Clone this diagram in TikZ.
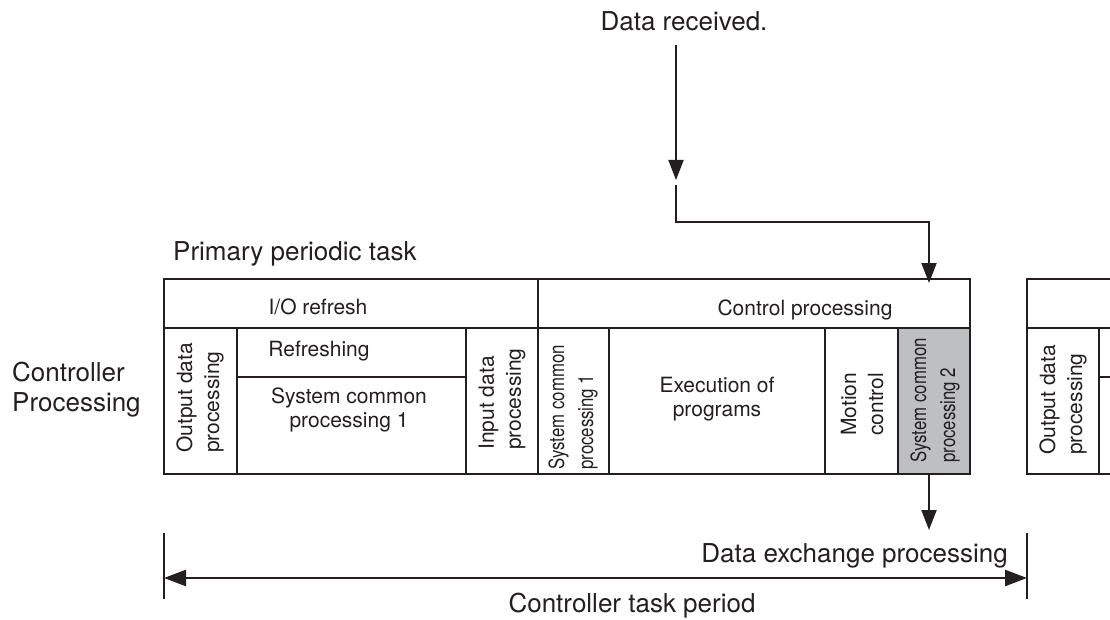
\documentclass[tikz,border=0pt]{standalone}
\usepackage{fontspec}
\setmainfont{TeX Gyre Heros}
\newfontfamily\condfont{TeX Gyre Heros}[FakeStretch=0.8]
\usetikzlibrary{arrows.meta}
\definecolor{ink}{RGB}{35,31,32}
\definecolor{cellgray}{RGB}{190,191,193}
\begin{document}
\begin{tikzpicture}[x=1pt,y=-1pt,
  cell/.style={draw=ink, line width=2pt, rectangle, inner sep=0pt, outer sep=0pt, anchor=north west},
  big/.style={font=\fontsize{26}{30}\selectfont, text=ink, inner sep=0pt},
  lbl/.style={font=\fontsize{21}{24}\selectfont, text=ink, inner sep=0pt, align=center},
  vlbl/.style={font=\fontsize{21}{27}\selectfont, text=ink, inner sep=0pt, align=left, rotate=90, anchor=west},
  svlbl/.style={font=\condfont\fontsize{21}{29}\selectfont, text=ink, inner sep=0pt, align=left, rotate=90, anchor=west},
  arr/.style={draw=ink, line width=2pt, -{Triangle[length=20pt,width=15pt]}},
  darr/.style={draw=ink, line width=2.5pt, {Triangle[length=22pt,width=16pt]}-{Triangle[length=22pt,width=16pt]}},
  tickline/.style={draw=ink, line width=1.5pt}
]
\useasboundingbox (0,0) rectangle (1110,620);
\clip (0,0) rectangle (1110,620);

% main task cells
\node[cell, minimum width=374, minimum height=49] (io) at (164,279) {};
\node[cell, minimum width=432, minimum height=49] (cp) at (538,279) {};
\node[cell, minimum width=73, minimum height=146] (outp) at (164,328) {};
\node[cell, minimum width=229, minimum height=49] (refr) at (237,328) {};
\node[cell, minimum width=229, minimum height=97] (scpa) at (237,377) {};
\node[cell, minimum width=72, minimum height=146] (inp) at (466,328) {};
\node[cell, minimum width=71, minimum height=146] (scpb) at (538,328) {};
\node[cell, minimum width=216, minimum height=146] (exec) at (609,328) {};
\node[cell, minimum width=73, minimum height=146] (mot) at (825,328) {};
\node[cell, fill=cellgray, minimum width=72, minimum height=146] (scpc) at (898,328) {};
\draw[ink, line width=2.6pt] (refr.south west) -- (refr.south east);

% next task (partly shown)
\node[cell, minimum width=110, minimum height=49] (nio) at (1027,279) {};
\node[cell, minimum width=72, minimum height=146] (nout) at (1027,328) {};
\node[cell, minimum width=40, minimum height=49] (nrefr) at (1099,328) {};
\node[cell, minimum width=40, minimum height=97] (nscp) at (1099,377) {};

% labels
\node[lbl, anchor=base] (iolbl) at (318,314) {I/O refresh};
\node[lbl, anchor=base] (cplbl) at (805,315) {Control processing};
\node[lbl, anchor=base] (refrlbl) at (319,356) {Refreshing};
\node[lbl] (scpalbl) at (349,409.6) {System common\\processing 1};
\node[lbl] (execlbl) at (717,399.5) {Execution of\\programs};
\node[vlbl] (outlbl) at (200,453) {Output data\\processing};
\node[vlbl] (inplbl) at (502,450) {Input data\\processing};
\node[vlbl] (motlbl) at (862,436) {Motion\\control};
\node[svlbl] (scpblbl) at (573,470) {System common\\processing 1};
\node[svlbl] (scpclbl) at (935,463) {System common\\processing 2};
\node[vlbl] (noutlbl) at (1063,455) {Output data\\processing};

\node[big, anchor=base] (dr) at (684,31) {Data received.};
\node[big, anchor=base west] (ppt) at (173,260) {Primary periodic task};
\node[big, anchor=west, align=left] (ctrl) at (12,390) {Controller\\Processing};
\node[big, anchor=base east] (dxp) at (1008,562) {Data exchange processing};
\node[big, anchor=base] (ctp) at (632,612) {Controller task period};

% arrows
\coordinate (a1s) at (676,45);
\coordinate (a1e) at (676,180);
\coordinate (a2s) at (676,185);
\coordinate (a2e) at (929,283);
\coordinate (a3e) at (929,530);
\draw[arr] (a1s) -- (a1e);
\draw[arr] (a2s) -- (676,222) -| (a2e);
\draw[arr] (scpc.south -| a3e) -- (a3e);

% period
\coordinate (pl) at (164,578);
\coordinate (pr) at (1027,578);
\coordinate (tl1) at (164,533);
\coordinate (tl2) at (164,599);
\coordinate (tr1) at (1027,533);
\coordinate (tr2) at (1027,599);
\draw[tickline] (tl1) -- (tl2);
\draw[tickline] (tr1) -- (tr2);
\draw[darr] (pl) -- (pr);
\end{tikzpicture}
\end{document}
